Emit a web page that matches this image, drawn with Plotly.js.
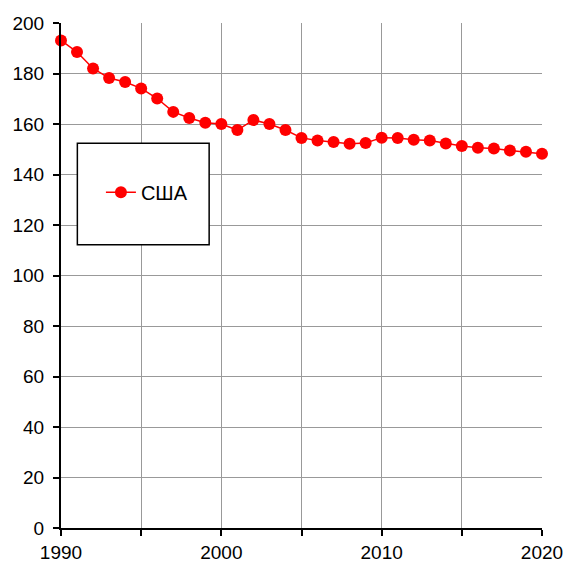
<!DOCTYPE html>
<html>
<head>
<meta charset="utf-8">
<script src="https://cdn.plot.ly/plotly-3.0.1.min.js"></script>
<style>html,body{margin:0;padding:0;background:#fff;}#chart{width:566px;height:562px;}</style>
</head>
<body>
<div id="chart"></div>
<script>
const years = [1990,1991,1992,1993,1994,1995,1996,1997,1998,1999,2000,2001,2002,2003,2004,2005,2006,2007,2008,2009,2010,2011,2012,2013,2014,2015,2016,2017,2018,2019,2020];
const usa = [193.1,188.5,182.0,178.2,176.6,174.1,170.1,164.8,162.4,160.5,160.0,157.6,161.6,160.0,157.6,154.5,153.5,152.9,152.2,152.5,154.6,154.5,153.8,153.5,152.3,151.3,150.6,150.3,149.5,149.0,148.2];
const seriesName = "США";
const xTickVals = [1990,1995,2000,2005,2010,2015,2020];
const xTickText = ["1990","","2000","","2010","","2020"];
const yTickVals = [0,20,40,60,80,100,120,140,160,180,200];
const yTickText = ["0","20","40","60","80","100","120","140","160","180","200"];

const trace = {
  x: years, y: usa, name: seriesName, type: "scatter", mode: "lines+markers",
  line: {color: "#ff0000", width: 1.5},
  marker: {color: "#ff0000", size: 12},
  cliponaxis: false
};
const layout = {
  width: 566, height: 562,
  margin: {l: 61, r: 24, t: 23, b: 34, pad: 0},
  paper_bgcolor: "#ffffff", plot_bgcolor: "#ffffff",
  font: {family: "Liberation Sans, Arial, sans-serif", size: 19, color: "#000"},
  showlegend: true,
  legend: {x: 0.083, y: 0.665, xanchor: "left", yanchor: "middle", bgcolor: "rgba(0,0,0,0)", borderwidth: 0, font: {size: 20}},
  xaxis: {
    range: [1990, 2020], tickmode: "array", tickvals: xTickVals, ticktext: xTickText,
    showgrid: true, gridcolor: "#999999", gridwidth: 1,
    showline: true, linecolor: "#000", linewidth: 2,
    ticks: "outside", ticklen: 6, tickcolor: "#000", tickwidth: 2,
    ticklabelstandoff: 0,
    zeroline: false, fixedrange: true
  },
  yaxis: {
    range: [0, 200], tickmode: "array", tickvals: yTickVals, ticktext: yTickText,
    showgrid: true, gridcolor: "#999999", gridwidth: 1,
    showline: true, linecolor: "#000", linewidth: 2,
    ticks: "outside", ticklen: 6, tickcolor: "#000", tickwidth: 2,
    ticklabelstandoff: 5,
    zeroline: false, fixedrange: true
  },
  shapes: [{
    type: "rect", xref: "paper", yref: "paper",
    x0: 0.034, x1: 0.308, y0: 0.561, y1: 0.762,
    line: {color: "#000", width: 1.5}, fillcolor: "#ffffff", layer: "above"
  }]
};
Plotly.newPlot("chart", [trace], layout, {displayModeBar: false, staticPlot: true});
</script>
</body>
</html>
